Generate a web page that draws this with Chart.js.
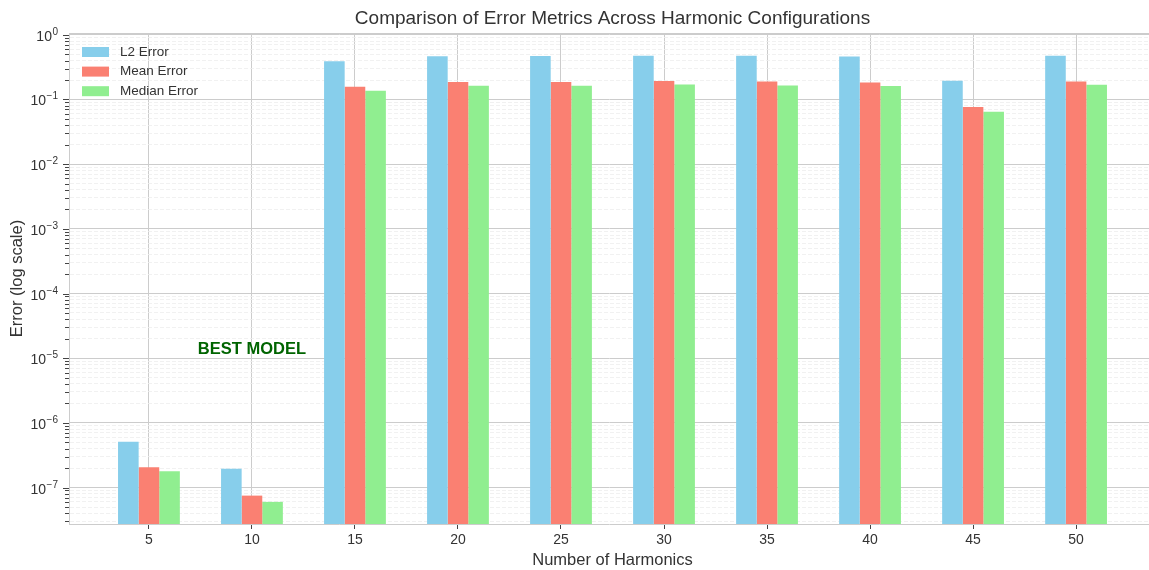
<!DOCTYPE html>
<html>
<head>
<meta charset="utf-8">
<script src="https://cdn.jsdelivr.net/npm/chart.js@4.4.1/dist/chart.umd.min.js"></script>
<style>
  html, body { margin: 0; padding: 0; background: #ffffff; }
  #wrap { width: 1149px; height: 570px; position: relative; overflow: hidden; }
</style>
</head>
<body>
<div id="wrap"><canvas id="chart" width="1149" height="570"></canvas></div>
<script>
// Harmonic counts and the three error metrics per configuration
const harmonics = [5, 10, 15, 20, 25, 30, 35, 40, 45, 50];
const l2Error = [5.1e-7, 1.95e-7, 0.39, 0.465, 0.47, 0.475, 0.475, 0.46, 0.195, 0.475];
const meanError = [2.05e-7, 7.5e-8, 0.157, 0.186, 0.186, 0.193, 0.19, 0.183, 0.0765, 0.19];
const medianError = [1.78e-7, 6.0e-8, 0.136, 0.163, 0.163, 0.171, 0.165, 0.161, 0.0645, 0.169];

const seriesNames = ['L2 Error', 'Mean Error', 'Median Error'];
const seriesColors = ['#87CEEB', '#FA8072', '#90EE90'];

// Axis ranges
const xMin = 1.12, xMax = 53.54;
const yMin = 2.73e-8, yMax = 1.066;
const decadeExponents = [-8, -7, -6, -5, -4, -3, -2, -1, 0];

// Callout
const bestModelLabel = 'BEST MODEL';
const bestModelAt = { x: 10, y: 1.35e-5 };

const FONT = '"Liberation Sans", Arial, sans-serif';
const TEXT = '#333333';

function points(values) {
  return harmonics.map((h, i) => ({ x: h, y: values[i] }));
}

const decorations = {
  id: 'decorations',
  afterDraw(chart) {
    const { ctx, chartArea: a, scales: { x, y } } = chart;
    ctx.save();

    // top spine
    ctx.strokeStyle = '#cccccc';
    ctx.lineWidth = 1;
    ctx.beginPath();
    ctx.moveTo(a.left, Math.round(a.top) + 0.5);
    ctx.lineTo(a.right, Math.round(a.top) + 0.5);
    ctx.stroke();

    // y ticks (major/minor) and power-of-ten labels
    y.ticks.forEach(t => {
      const py = Math.round(y.getPixelForValue(t.value)) + 0.5;
      const len = t.major ? 6 : 4;
      ctx.strokeStyle = '#444444';
      ctx.lineWidth = 1;
      ctx.beginPath();
      ctx.moveTo(a.left - len, py);
      ctx.lineTo(a.left, py);
      ctx.stroke();
      if (t.major) {
        const exp = Math.round(Math.log10(t.value));
        const sup = exp < 0 ? '\u2212' + (-exp) : String(exp);
        const right = a.left - 11;
        ctx.fillStyle = TEXT;
        ctx.textAlign = 'right';
        ctx.textBaseline = 'alphabetic';
        ctx.font = '10px ' + FONT;
        const supW = ctx.measureText(sup).width;
        ctx.fillText(sup, right, py - 0.5);
        ctx.font = '14px ' + FONT;
        ctx.fillText('10', right - supW - 0.5, py + 5.5);
      }
    });

    // title
    const cx = x.getPixelForValue((harmonics[0] + harmonics[harmonics.length - 1]) / 2);
    ctx.fillStyle = TEXT;
    ctx.textAlign = 'center';
    ctx.textBaseline = 'middle';
    ctx.font = '19px ' + FONT;
    ctx.fillText('Comparison of Error Metrics Across Harmonic Configurations', cx, 19);

    // x axis title
    ctx.font = '16.5px ' + FONT;
    ctx.fillText('Number of Harmonics', cx, 560);

    // y axis title
    ctx.save();
    ctx.translate(17, (a.top + a.bottom) / 2);
    ctx.rotate(-Math.PI / 2);
    ctx.fillText('Error (log scale)', 0, 0);
    ctx.restore();

    // legend
    ctx.textAlign = 'left';
    ctx.font = '13.5px ' + FONT;
    seriesNames.forEach((name, i) => {
      const cy = 52 + i * 19.6;
      ctx.fillStyle = seriesColors[i];
      ctx.fillRect(82, cy - 5, 27, 10);
      ctx.fillStyle = TEXT;
      ctx.fillText(name, 120, cy);
    });

    // callout
    ctx.fillStyle = '#006400';
    ctx.textAlign = 'center';
    ctx.font = 'bold 16.5px ' + FONT;
    ctx.fillText(bestModelLabel, x.getPixelForValue(bestModelAt.x), y.getPixelForValue(bestModelAt.y));

    ctx.restore();
  }
};

new Chart(document.getElementById('chart'), {
  type: 'bar',
  data: {
    datasets: [
      { label: seriesNames[0], data: points(l2Error), backgroundColor: seriesColors[0] },
      { label: seriesNames[1], data: points(meanError), backgroundColor: seriesColors[1] },
      { label: seriesNames[2], data: points(medianError), backgroundColor: seriesColors[2] }
    ]
  },
  options: {
    responsive: false,
    animation: false,
    devicePixelRatio: 1,
    layout: { padding: { top: 33, right: 0, bottom: 0, left: 0 } },
    datasets: { bar: { categoryPercentage: 0.6, barPercentage: 1.0, borderWidth: 0 } },
    plugins: {
      legend: { display: false },
      title: { display: false },
      tooltip: { enabled: false }
    },
    scales: {
      x: {
        type: 'linear',
        min: xMin,
        max: xMax,
        bounds: 'data',
        offset: false,
        afterBuildTicks(scale) {
          scale.ticks = harmonics.map(v => ({ value: v }));
        },
        afterFit(scale) { scale.height = 46; },
        ticks: {
          autoSkip: false,
          maxRotation: 0,
          padding: 3,
          color: TEXT,
          font: { family: FONT, size: 14 },
          callback: v => String(v)
        },
        grid: {
          offset: false,
          color: '#cccccc',
          lineWidth: 1,
          drawTicks: true,
          tickLength: 5,
          tickColor: '#444444'
        },
        border: { display: true, color: '#cccccc', width: 1 }
      },
      y: {
        type: 'logarithmic',
        min: yMin,
        max: yMax,
        bounds: 'data',
        afterBuildTicks(scale) {
          const ticks = [];
          decadeExponents.forEach(e => {
            for (let k = 1; k <= 9; k++) {
              const v = k * Math.pow(10, e);
              if (v >= yMin && v <= yMax) ticks.push({ value: v, major: k === 1 });
            }
          });
          scale.ticks = ticks;
        },
        afterFit(scale) { scale.width = 69; },
        ticks: { display: false },
        grid: {
          drawTicks: false,
          color: c => (c.tick && c.tick.major ? '#cccccc' : '#ededed'),
          lineWidth: c => (c.tick && c.tick.major ? 1 : 0.8)
        },
        border: {
          display: true,
          color: '#cccccc',
          width: 1,
          dash: c => (c.tick && !c.tick.major ? [4, 2] : [])
        }
      }
    }
  },
  plugins: [decorations]
});
</script>
</body>
</html>
